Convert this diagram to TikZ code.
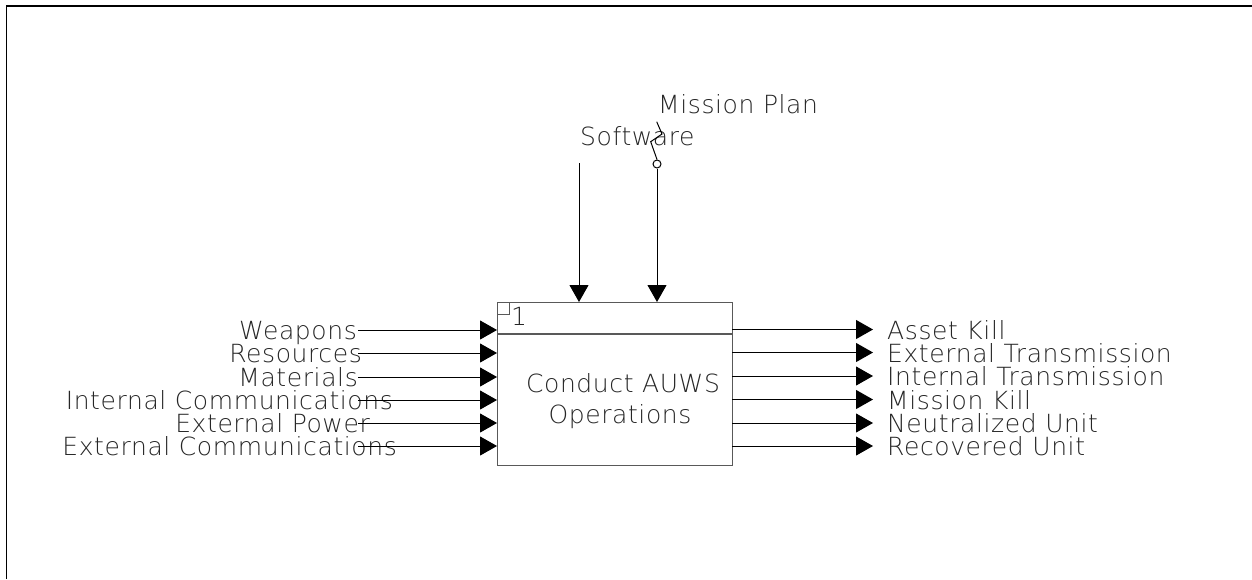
\documentclass[tikz,border=0pt]{standalone}
\usepackage{fontspec}
\setmainfont{DejaVu Sans ExtraLight}[LetterSpace=2.4]
\usetikzlibrary{arrows.meta}
\definecolor{txtgray}{gray}{0.15}
\definecolor{boxgray}{gray}{0.35}
\begin{document}
\begin{tikzpicture}[x=1pt,y=-1pt,
  lbl/.style={font=\fontsize{25}{25}\selectfont, text=txtgray, inner sep=0pt},
  conn/.style={draw=black, line width=1pt},
  arr/.style={conn, -{Triangle[length=17pt,width=19pt]}},
]
\useasboundingbox (0,0) rectangle (1252,579);
\coordinate (fb) at (6.5,579);
\coordinate (fc) at (6.5,6);
\coordinate (fr) at (1252,6);
\draw[line width=1.2pt] (fb) -- (fc) -- (fr);

% box
\node[draw=boxgray, line width=1.1pt, minimum width=235pt, minimum height=163pt,
      anchor=north west, inner sep=0pt] (box) at (497,302) {};
\coordinate (hl) at (497,334);
\coordinate (hr) at (732,334);
\draw[boxgray, line width=1.1pt] (hl) -- (hr);
\node[draw=boxgray, line width=0.9pt, minimum size=12pt, anchor=north west, inner sep=0pt] (sq) at (box.north west) {};
\node[lbl, anchor=base west] (num) at (511,325) {1};
\node[lbl, anchor=base] (t1) at (623,392) {Conduct AUWS};
\node[lbl, anchor=base] (t2) at (620,423) {Operations};

% inputs
\foreach \n/\y/\xe/\t in {1/330/357/Weapons, 2/353/362/Resources, 3/377/358/Materials,
    4/400/393/Internal Communications, 5/423/370/External Power, 6/446/397/External Communications}{
  \node[lbl, anchor=base east] (in\n) at (\xe,\y+9.5) {\t};
  \coordinate (is\n) at (358,\y);
  \coordinate (ie\n) at (497,\y);
  \draw[arr] (is\n) -- (ie\n);
}

% outputs
\foreach \n/\y/\t in {1/329.5/Asset Kill, 2/352.5/External Transmission, 3/376/Internal Transmission,
    4/399.5/Mission Kill, 5/423/Neutralized Unit, 6/446/Recovered Unit}{
  \coordinate (os\n) at (732,\y);
  \coordinate (oe\n) at (873,\y);
  \draw[arr] (os\n) -- (oe\n);
  \node[lbl, anchor=base west] (out\n) at (887,\y+9.5) {\t};
}

% controls
\node[lbl, anchor=base west] (sw) at (580,145) {Software};
\node[lbl, anchor=base west] (mp) at (658,113) {Mission Plan};
\coordinate (swt) at (579,163);
\coordinate (swb) at (579,302);
\draw[arr] (swt) -- (swb);
\node[circle, draw=black, line width=1pt, minimum size=8pt, inner sep=0pt] (circ) at (657,164) {};
\coordinate (mpb) at (657,302);
\draw[arr] (circ.south) -- (mpb);
\coordinate (q1) at (656.7,121.7);
\coordinate (q2) at (662,134);
\coordinate (q3) at (650.7,141.7);
\draw[conn] (q1) -- (q2) -- (q3) -- (circ.north);
\end{tikzpicture}
\end{document}
